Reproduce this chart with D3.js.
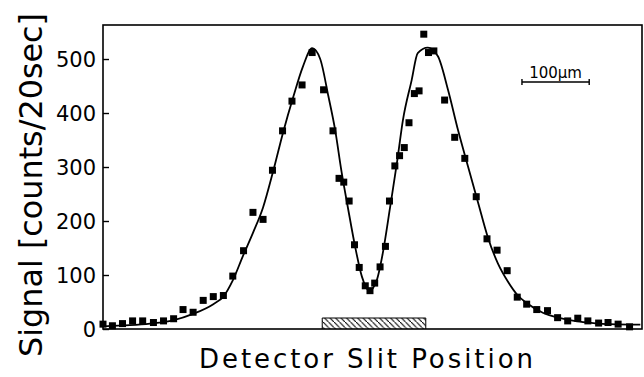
<!DOCTYPE html>
<html>
<head>
<meta charset="utf-8">
<script src="https://cdn.jsdelivr.net/npm/d3@7"></script>
<style>
  body { margin: 0; background: #fff; }
  svg { display: block; font-family: 'DejaVu Sans', sans-serif; }
</style>
</head>
<body>
<div id="chart"></div>
<script>
// measured points: slit position (um) and counts per 20 sec
const positions = [-400, -386, -371, -356, -341, -325, -310, -295, -281, -266, -251, -236, -221, -207,
  -191, -177, -162, -148, -133, -119, -104, -89, -72, -58, -49, -42, -34, -26, -19, -10, -3, 4, 12,
  20, 26, 34, 41, 48, 55, 63, 70, 77, 84, 92, 108, 123, 138, 155, 171, 186, 201, 216, 230, 245,
  261, 276, 291, 306, 321, 337, 351, 366, 383]
const counts = [9, 6, 10, 15, 15, 12, 15, 19, 36, 31, 53, 60, 62, 98,
  145, 216, 203, 294, 367, 422, 452, 512, 443, 367, 279, 272, 237, 156, 114, 80, 71, 85, 115,
  153, 237, 302, 321, 336, 382, 436, 441, 546, 512, 515, 424, 355, 316, 245, 167, 146, 108, 59, 46, 36,
  34, 21, 15, 20, 15, 11, 12, 9, 4]

// fitted curve
const fitX = [-400, -360, -330, -296, -266, -236, -221, -207, -192, -177, -162, -147, -132, -117,
  -103, -89, -77, -65, -55, -45, -36, -25, -15, -4, 7, 16, 27, 37, 46, 59, 68, 83, 98, 113, 128,
  143, 158, 172, 187, 202, 217, 230, 254, 280, 305, 329, 354, 399]
const fitY = [5, 7, 10, 16, 28, 46, 60, 90, 135, 178, 225, 292, 365, 430,
  485, 520, 500, 432, 370, 289, 226, 152, 97, 71, 90, 140, 226, 307, 387, 461, 511, 521, 505, 443, 368,
  300, 233, 171, 122, 88, 62, 48, 30, 20, 14, 11, 9, 8]

const yTicks = [0, 100, 200, 300, 400, 500]
const slitImage = [-74, 80]
const scaleBar = [223, 323]

const margin = { top: 25, left: 103, right: 2, bottom: 48 }
const width = 644 - margin.left - margin.right
const height = 377 - margin.top - margin.bottom

const xPositionScale = d3.scaleLinear().domain([-400, 401.5]).range([0, width])
const yPositionScale = d3.scaleLinear().domain([0, 563]).range([height, 0])

const svg = d3
  .select('#chart')
  .append('svg')
  .attr('width', 644)
  .attr('height', 377)

const defs = svg.append('defs')
defs
  .append('pattern')
  .attr('id', 'hatch')
  .attr('patternUnits', 'userSpaceOnUse')
  .attr('width', 5.5)
  .attr('height', 5.5)
  .append('path')
  .attr('d', 'M-1,-1 L6.5,6.5')
  .attr('stroke', '#000')
  .attr('stroke-width', 1.1)

const g = svg
  .append('g')
  .attr('transform', 'translate(' + margin.left + ',' + margin.top + ')')

// frame
g.append('rect')
  .attr('width', width)
  .attr('height', height)
  .attr('fill', 'none')
  .attr('stroke', '#000')
  .attr('stroke-width', 1.6)

const yAxis = d3
  .axisRight(yPositionScale)
  .tickValues(yTicks)
  .tickSize(6)
  .tickFormat('')
g.append('g')
  .attr('class', 'axis y-axis')
  .call(yAxis)
  .call(s => s.select('.domain').remove())
  .call(s => s.selectAll('line').attr('stroke-width', 1.4))

g.selectAll('.tick-label')
  .data(yTicks)
  .enter()
  .append('text')
  .attr('class', 'tick-label')
  .attr('x', -7)
  .attr('y', d => yPositionScale(d))
  .attr('dy', '0.36em')
  .attr('text-anchor', 'end')
  .attr('font-size', 21)
  .text(d => d)

// slit image, hatched
const slitX0 = xPositionScale(slitImage[0])
const slitX1 = xPositionScale(slitImage[1])
g.append('rect')
  .attr('x', slitX0)
  .attr('y', height - 11)
  .attr('width', slitX1 - slitX0)
  .attr('height', 11)
  .attr('fill', 'url(#hatch)')
g.append('path')
  .attr('d', 'M' + slitX0 + ',' + height + 'V' + (height - 11) + 'H' + slitX1 + 'V' + height)
  .attr('fill', 'none')
  .attr('stroke', '#000')
  .attr('stroke-width', 1)

// fitted curve
const fitLine = d3
  .line()
  .x(d => xPositionScale(d[0]))
  .y(d => yPositionScale(d[1]))
  .curve(d3.curveMonotoneX)

g.append('path')
  .attr('d', fitLine(d3.zip(fitX, fitY)))
  .attr('fill', 'none')
  .attr('stroke', '#000')
  .attr('stroke-width', 1.8)

// data squares
g.selectAll('.pt')
  .data(d3.zip(positions, counts))
  .enter()
  .append('rect')
  .attr('class', 'pt')
  .attr('x', d => xPositionScale(d[0]) - 3.5)
  .attr('y', d => yPositionScale(d[1]) - 3.5)
  .attr('width', 7)
  .attr('height', 7)
  .attr('fill', '#000')

// 100 um scale bar
const sb0 = xPositionScale(scaleBar[0])
const sb1 = xPositionScale(scaleBar[1])
const sbY = 57
g.append('path')
  .attr('d', 'M' + sb0 + ',' + (sbY - 3) + 'V' + (sbY + 3) + 'M' + sb0 + ',' + sbY + 'H' + sb1 +
    'M' + sb1 + ',' + (sbY - 3) + 'V' + (sbY + 3))
  .attr('fill', 'none')
  .attr('stroke', '#000')
  .attr('stroke-width', 1.4)
g.append('text')
  .attr('x', (sb0 + sb1) / 2)
  .attr('y', sbY - 4)
  .attr('text-anchor', 'middle')
  .attr('font-size', 15)
  .text('100μm')

// axis titles
svg.append('text')
  .attr('transform', 'translate(42,185) rotate(-90)')
  .attr('text-anchor', 'middle')
  .attr('font-size', 32)
  .attr('textLength', 344)
  .attr('lengthAdjust', 'spacingAndGlyphs')
  .text('Signal [counts/20sec]')

svg.append('text')
  .attr('x', 366)
  .attr('y', 368)
  .attr('text-anchor', 'middle')
  .attr('font-size', 26)
  .attr('textLength', 334)
  .attr('lengthAdjust', 'spacing')
  .text('Detector Slit Position')
</script>
</body>
</html>
